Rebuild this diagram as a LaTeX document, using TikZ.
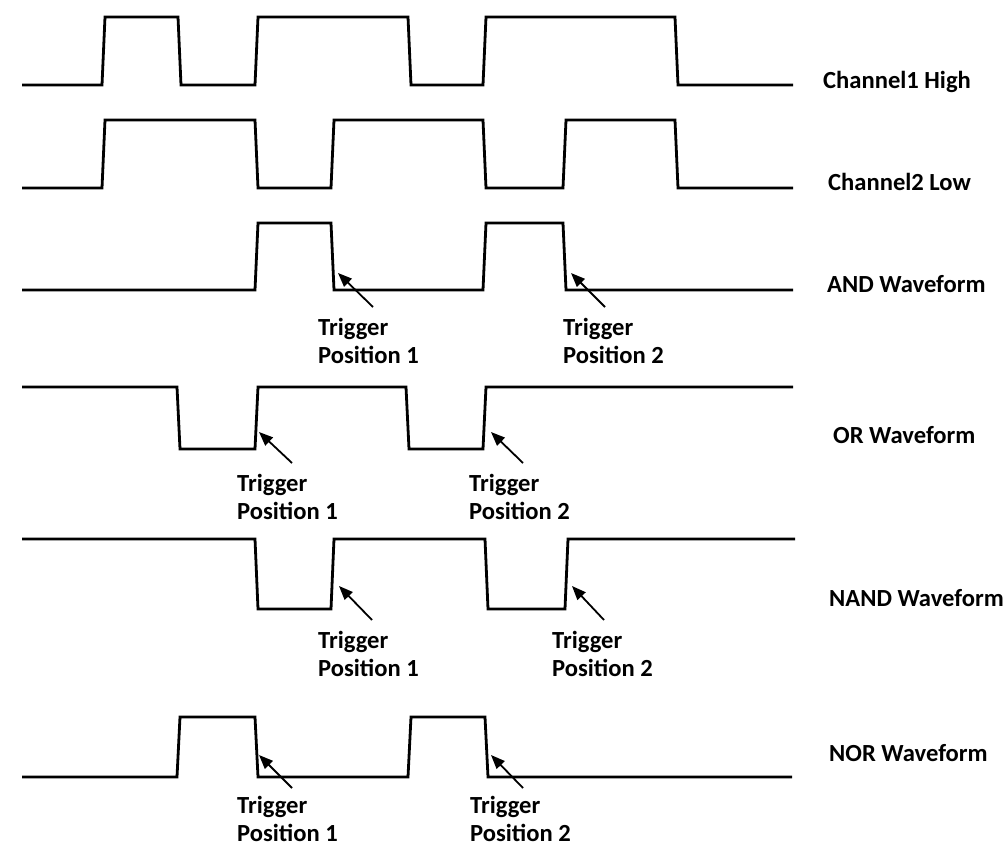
\documentclass[tikz,border=0pt]{standalone}
\usepackage{fontspec}
\setmainfont{Carlito}
\usepackage{tikz}
\usetikzlibrary{arrows.meta}

\begin{document}
\begin{tikzpicture}[x=1pt, y=-1pt,
  every node/.style={font=\fontsize{24.6}{28.5}\selectfont\bfseries, inner sep=0pt},
  wave/.style={line width=2.8pt, line join=miter},
  trig/.style={line width=1.8pt, -{Triangle[length=14pt, width=11pt]}},
  tlabel/.style={anchor=north west, align=left},
  chan/.style={anchor=west}]
\useasboundingbox (0,0) rectangle (1005,845);

% ============= inputs =============
% Channel 1 (high level condition)
\draw[wave] (22,85) -- (102,85) -- (105,17) -- (178,17) -- (181,85) -- (255,85)
  -- (258,17) -- (408,17) -- (411,85) -- (483,85) -- (486,17) -- (675,17)
  -- (678,85) -- (793,85);
\node[chan] (ch1) at (823,82) {Channel1 High};

% Channel 2 (low level condition)
\draw[wave] (22,188) -- (102,188) -- (105,120) -- (255,120) -- (258,188) -- (331,188)
  -- (334,120) -- (483,120) -- (486,188) -- (563,188) -- (566,120) -- (675,120)
  -- (678,188) -- (793,188);
\node[chan] (ch2) at (828,182) {Channel2 Low};

% ============= AND =============
\draw[wave] (22,290) -- (255,290) -- (258,223) -- (331,223) -- (334,290) -- (483,290)
  -- (486,223) -- (563,223) -- (566,290) -- (793,290);
\node[chan] (andw) at (827,284) {AND Waveform};
\node[tlabel] (and1) at (318,318) {Trigger\\Position 1};
\node[tlabel] (and2) at (563,318) {Trigger\\Position 2};
\coordinate (and1t) at (373,307);  \coordinate (and1h) at (338,273);
\coordinate (and2t) at (605,307);  \coordinate (and2h) at (571,273);
\draw[trig] (and1t) -- (and1h);
\draw[trig] (and2t) -- (and2h);

% ============= OR =============
\draw[wave] (22,387) -- (177,387) -- (180,449) -- (255,449) -- (258,387) -- (406,387)
  -- (409,449) -- (483,449) -- (486,387) -- (793,387);
\node[chan] (orw) at (833,435) {OR Waveform};
\node[tlabel] (or1) at (237,474) {Trigger\\Position 1};
\node[tlabel] (or2) at (469,474) {Trigger\\Position 2};
\coordinate (or1t) at (292,463);  \coordinate (or1h) at (259,432);
\coordinate (or2t) at (523,463);  \coordinate (or2h) at (491,432);
\draw[trig] (or1t) -- (or1h);
\draw[trig] (or2t) -- (or2h);

% ============= NAND =============
\draw[wave] (22,539) -- (255,539) -- (258,609) -- (331,609) -- (334,539) -- (485,539)
  -- (488,609) -- (565,609) -- (568,539) -- (795,539);
\node[chan] (nandw) at (829,598) {NAND Waveform};
\node[tlabel] (nand1) at (318,631) {Trigger\\Position 1};
\node[tlabel] (nand2) at (552,631) {Trigger\\Position 2};
\coordinate (nand1t) at (372,620);  \coordinate (nand1h) at (339,586);
\coordinate (nand2t) at (604,620);  \coordinate (nand2h) at (572,586);
\draw[trig] (nand1t) -- (nand1h);
\draw[trig] (nand2t) -- (nand2h);

% ============= NOR =============
\draw[wave] (22,777) -- (177,777) -- (180,717) -- (255,717) -- (258,777) -- (408,777)
  -- (411,717) -- (485,717) -- (488,777) -- (792,777);
\node[chan] (norw) at (829,753) {NOR Waveform};
\node[tlabel] (nor1) at (237,796) {Trigger\\Position 1};
\node[tlabel] (nor2) at (470,796) {Trigger\\Position 2};
\coordinate (nor1t) at (292,788);  \coordinate (nor1h) at (259,755);
\coordinate (nor2t) at (523,788);  \coordinate (nor2h) at (491,755);
\draw[trig] (nor1t) -- (nor1h);
\draw[trig] (nor2t) -- (nor2h);
\end{tikzpicture}
\end{document}
